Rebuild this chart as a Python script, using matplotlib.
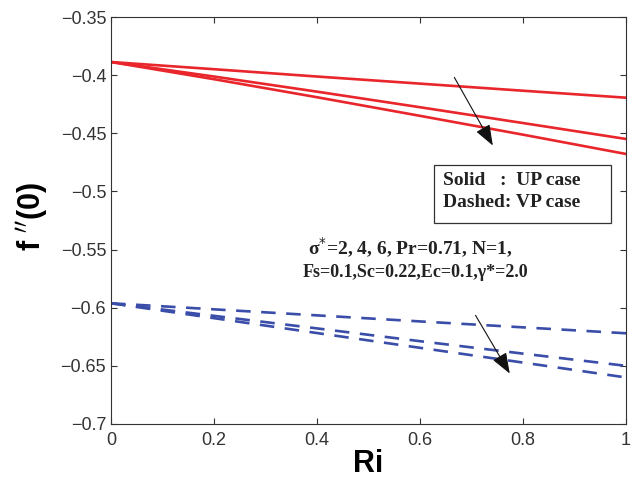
import numpy as np
import matplotlib
matplotlib.use("Agg")
import matplotlib.pyplot as plt
from matplotlib.patches import Rectangle

# Ri values and f''(0) (sigma* = 2, 4, 6)
ri = [0.0, 0.2, 0.4, 0.6, 0.8, 1.0]
up_s2 = [-0.3887, -0.3949, -0.4012, -0.4073, -0.4134, -0.4194]
up_s4 = [-0.3887, -0.4012, -0.4142, -0.4276, -0.4412, -0.4549]
up_s6 = [-0.3887, -0.4035, -0.4190, -0.4350, -0.4512, -0.4678]
vp_s2 = [-0.5962, -0.6014, -0.6066, -0.6118, -0.6169, -0.6220]
vp_s4 = [-0.5962, -0.6070, -0.6178, -0.6288, -0.6395, -0.6500]
vp_s6 = [-0.5962, -0.6090, -0.6218, -0.6345, -0.6472, -0.6600]

x_ticks = [0, 0.2, 0.4, 0.6, 0.8, 1]
y_ticks = [-0.7, -0.65, -0.6, -0.55, -0.5, -0.45, -0.4, -0.35]

plt.rcParams["font.family"] = ["Liberation Sans", "DejaVu Sans"]

fig = plt.figure(figsize=(6.39, 4.83), dpi=100)
ax = fig.add_axes([0.1737, 0.1222, 0.806, 0.8426])

red = "#e8262b"
blue = "#3a4da8"
for y in (up_s2, up_s4, up_s6):
    ax.plot(ri, y, color=red, lw=1.9)
for y in (vp_s2, vp_s4, vp_s6):
    ax.plot(ri, y, color=blue, lw=1.9, ls=(0, (5.5, 4)))

ax.set_xlim(0, 1)
ax.set_ylim(-0.7, -0.35)
ax.set_xticks(x_ticks)
ax.set_xticklabels(["0", "0.2", "0.4", "0.6", "0.8", "1"])
ax.set_yticks(y_ticks)
ax.set_yticklabels(["\u22120.7", "\u22120.65", "\u22120.6", "\u22120.55",
                    "\u22120.5", "\u22120.45", "\u22120.4", "\u22120.35"])
ax.tick_params(direction="in", top=True, right=True, labelsize=13,
               colors="#333333", length=4)
ax.tick_params(axis="x", pad=6)
for s in ax.spines.values():
    s.set_color("#333333")
    s.set_linewidth(0.8)

ax.set_xlabel("Ri", fontsize=22, fontweight="bold", labelpad=0)
ax.set_ylabel("f $^{\\prime\\prime}$(0)", fontsize=22, fontweight="bold")
ax.yaxis.set_label_coords(-0.118, 0.51)

# arrows showing increasing sigma*
ax.annotate("", xy=(0.744, -0.4626), xytext=(0.664, -0.3999),
            arrowprops=dict(arrowstyle="-|>,head_length=0.8,head_width=0.3",
                            color="#111111", lw=0.8, mutation_scale=16))
ax.annotate("", xy=(0.777, -0.6587), xytext=(0.705, -0.6045),
            arrowprops=dict(arrowstyle="-|>,head_length=0.8,head_width=0.3",
                            color="#111111", lw=0.8, mutation_scale=16))

serif = ["Liberation Serif", "DejaVu Serif"]
ax.add_patch(Rectangle((0.627, -0.5271), 0.344, 0.0498, fill=False,
                       ec="#333333", lw=0.9, zorder=3))
ax.text(0.645, -0.4902, "Solid   :  UP case", fontsize=14, fontweight="bold",
        family=serif, color="#222222", va="center", ha="left")
ax.text(0.645, -0.5091, "Dashed: VP case", fontsize=14, fontweight="bold",
        family=serif, color="#222222", va="center", ha="left")

ax.text(0.581, -0.5486, "\u03c3$^{*}$=2, 4, 6, Pr=0.71, N=1,",
        fontsize=14, fontweight="bold", family=serif, color="#222222",
        ha="center", va="center")
ax.text(0.592, -0.5701, "Fs=0.1,Sc=0.22,Ec=0.1,\u03b3*=2.0",
        fontsize=13, fontweight="bold", family=serif, color="#222222",
        ha="center", va="center")

fig.savefig("out.png", dpi=100)
